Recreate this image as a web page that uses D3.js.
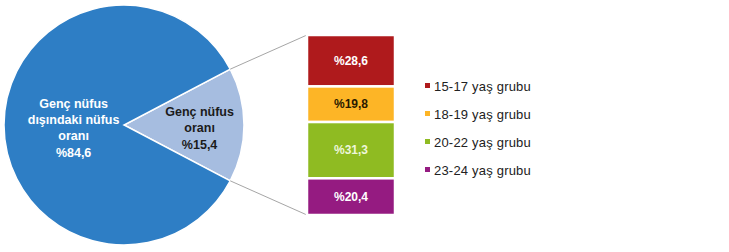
<!DOCTYPE html>
<html>
  <head>
    <meta charset="utf-8">
    <title>Genç nüfus oranı</title>
    <script src="https://cdn.jsdelivr.net/npm/d3@7"></script>
    <style>
      body { margin: 0; background: #fff; }
      svg { display: block; font-family: "Liberation Sans", Arial, sans-serif; }
    </style>
  </head>
  <body>
    <svg id="chart" width="729" height="252"></svg>

    <script>
      // data
      pieNames = [["Genç nüfus", "oranı"], ["Genç nüfus", "dışındaki nüfus", "oranı"]];
      pieValues = [15.4, 84.6];
      pieColours = ["#A6BDE0", "#2E7EC5"];
      pieTextColours = ["#1b1b1b", "#ffffff"];

      groups = ["15-17 yaş grubu", "18-19 yaş grubu", "20-22 yaş grubu", "23-24 yaş grubu"];
      groupValues = [28.6, 19.8, 31.3, 20.4];
      groupColours = ["#AF1A1C", "#FDB526", "#8FBB22", "#951B81"];
      groupTextColours = ["#ffffff", "#2a1a00", "#eef6dc", "#ffffff"];

      fmt = function(v) { return "%" + d3.format(".1f")(v).replace(".", ","); };

      svg = d3.select("#chart");

      // pie
      cx = 124; cy = 125; r = 120;
      smallAngle = pieValues[0] / d3.sum(pieValues) * 2 * Math.PI;
      pie = d3.pie().sort(null)
        .startAngle(Math.PI / 2 - smallAngle / 2)
        .endAngle(Math.PI / 2 - smallAngle / 2 + 2 * Math.PI);
      arc = d3.arc().innerRadius(0).outerRadius(r);
      slices = pie(pieValues);

      pieGroup = svg.append("g").attr("transform", "translate(" + cx + "," + cy + ")");
      pieGroup.selectAll("path")
        .data(slices)
        .enter().append("path")
          .attr("d", arc)
          .attr("fill", function(d, i) { return pieColours[i]; })
          .attr("stroke", "#ffffff")
          .attr("stroke-width", 1.5);

      labelRadius = [0.63 * r, 0.42 * r];
      slices.forEach(function(d, i) {
        var mid = (d.startAngle + d.endAngle) / 2;
        var lx = Math.sin(mid) * labelRadius[i];
        var ly = -Math.cos(mid) * labelRadius[i];
        var lines = pieNames[i].concat([fmt(pieValues[i])]);
        var t = pieGroup.append("text")
          .attr("text-anchor", "middle")
          .attr("fill", pieTextColours[i])
          .attr("font-size", "12.5px")
          .attr("font-weight", "bold");
        lines.forEach(function(line, j) {
          t.append("tspan")
            .attr("x", lx)
            .attr("y", ly + (j - (lines.length - 1) / 2) * 16 + 7 + (j === lines.length - 1 ? 1 : 0))
            .text(line);
        });
      });

      // stacked bar
      barX = 307; barW = 88;
      y = d3.scaleLinear().domain([0, d3.sum(groupValues)]).range([35, 215]);
      cum = [0];
      groupValues.forEach(function(v, i) { cum.push(cum[i] + v); });

      // connector lines
      var p0 = slices[0];
      [p0.startAngle, p0.endAngle].forEach(function(a, i) {
        svg.append("line")
          .attr("x1", cx + Math.sin(a) * r)
          .attr("y1", cy - Math.cos(a) * r)
          .attr("x2", barX)
          .attr("y2", i === 0 ? y(0) : y(cum[cum.length - 1]))
          .attr("stroke", "#a6a6a6")
          .attr("stroke-width", 1);
      });

      barGroup = svg.append("g");
      barGroup.selectAll("rect")
        .data(groupValues)
        .enter().append("rect")
          .attr("x", barX)
          .attr("width", barW)
          .attr("y", function(d, i) { return y(cum[i]); })
          .attr("height", function(d, i) { return y(cum[i + 1]) - y(cum[i]); })
          .attr("fill", function(d, i) { return groupColours[i]; })
          .attr("stroke", "#ffffff")
          .attr("stroke-width", 2.5);
      barGroup.selectAll("text")
        .data(groupValues)
        .enter().append("text")
          .attr("x", barX + barW / 2)
          .attr("y", function(d, i) { return (y(cum[i]) + y(cum[i + 1])) / 2 + 4; })
          .attr("text-anchor", "middle")
          .attr("font-size", "12px")
          .attr("font-weight", "bold")
          .attr("fill", function(d, i) { return groupTextColours[i]; })
          .text(fmt);

      // legend
      legendY = d3.scalePoint().domain(groups).range([86, 170]);
      legend = svg.append("g");
      legend.selectAll("rect")
        .data(groups)
        .enter().append("rect")
          .attr("x", 425)
          .attr("y", function(d) { return legendY(d) - 3; })
          .attr("width", 5)
          .attr("height", 5)
          .attr("fill", function(d, i) { return groupColours[i]; });
      legend.selectAll("text")
        .data(groups)
        .enter().append("text")
          .attr("x", 434)
          .attr("y", function(d) { return legendY(d) + 5; })
          .attr("font-size", "13px")
          .attr("letter-spacing", "0.2px")
          .attr("fill", "#222222")
          .text(function(d) { return d; });
    </script>
  </body>
</html>
